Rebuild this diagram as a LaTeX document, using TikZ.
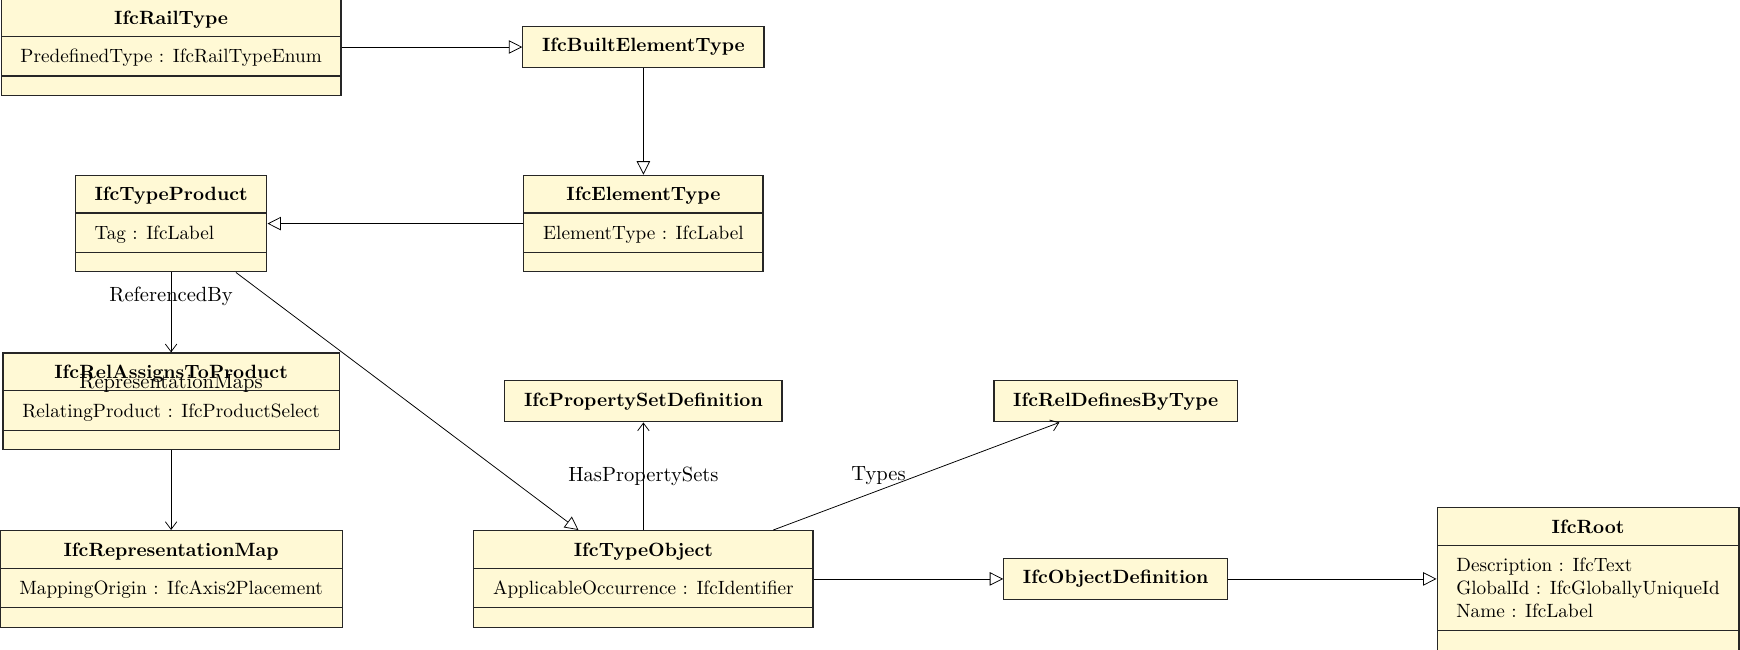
\documentclass[tikz,border=0pt]{standalone}
\usepackage{xcolor}
\usepackage{tikz}
\usetikzlibrary{positioning,arrows.meta,backgrounds,shapes.multipart}
\definecolor{umlYellow}{RGB}{255,249,213}
\newcommand{\titleRow}{\rule[-6pt]{0pt}{19pt}}
\newcommand{\attrRow}{\rule[-6.5pt]{0pt}{20pt}}
\newcommand{\emptyRow}{\rule{0pt}{9.5pt}}

\begin{document}
\begin{tikzpicture}[
  classNode/.style={rectangle split, rectangle split parts=3, draw=black!85,
                    line width=0.6pt, fill=umlYellow, inner xsep=10pt,
                    inner ysep=0pt, rectangle split part align={center,left,left},
                    font=\normalsize},
  plainClass/.style={draw=black!85, line width=0.6pt, fill=umlYellow,
                     inner xsep=10pt, minimum height=21.5pt, font=\bfseries},
  inherit/.style={-{Triangle[open, length=7pt, width=7pt]}},
  assoc/.style={-{Straight Barb[length=4pt, width=6pt]}},
  edgeLabel/.style={font=\fontsize{10.7pt}{13pt}\selectfont}
]
  \useasboundingbox (0,0) rectangle (31.83,-11.88);

  % Column 1
  \node[classNode] (rail) at (3.13,-0.86)
    {\titleRow\textbf{IfcRailType} \nodepart{two} \attrRow PredefinedType : IfcRailTypeEnum
     \nodepart{three}\emptyRow};
  \node[classNode] (tprod) at (3.13,-4.09)
    {\titleRow\textbf{IfcTypeProduct} \nodepart{two} \attrRow Tag : IfcLabel
     \nodepart{three}\emptyRow};
  \node[classNode] (rela) at (3.13,-7.34)
    {\titleRow\textbf{IfcRelAssignsToProduct} \nodepart{two} \attrRow RelatingProduct : IfcProductSelect
     \nodepart{three}\emptyRow};
  \node[classNode] (rmap) at (3.13,-10.59)
    {\titleRow\textbf{IfcRepresentationMap} \nodepart{two} \attrRow MappingOrigin : IfcAxis2Placement
     \nodepart{three}\emptyRow};

  % Column 2
  \node[plainClass] (built) at (11.77,-0.86) {IfcBuiltElementType};
  \node[classNode] (elem) at (11.77,-4.09)
    {\titleRow\textbf{IfcElementType} \nodepart{two} \attrRow ElementType : IfcLabel
     \nodepart{three}\emptyRow};
  \node[plainClass] (pset) at (11.77,-7.34) {IfcPropertySetDefinition};
  \node[classNode] (tobj) at (11.77,-10.59)
    {\titleRow\textbf{IfcTypeObject} \nodepart{two} \attrRow ApplicableOccurrence : IfcIdentifier
     \nodepart{three}\emptyRow};

  % Columns 3 and 4
  \node[plainClass] (rdef) at (20.41,-7.34) {IfcRelDefinesByType};
  \node[plainClass] (odef) at (20.41,-10.59) {IfcObjectDefinition};
  \node[classNode, align=left] (root) at (29.05,-10.59)
    {\titleRow\textbf{IfcRoot} \nodepart{two} \rule{0pt}{13.5pt}Description : IfcText\\
     GlobalId : IfcGloballyUniqueId\\ Name : IfcLabel\rule[-6.5pt]{0pt}{0pt}
     \nodepart{three}\emptyRow};

  % Generalisations
  \draw[inherit] (rail) -- (built);
  \draw[inherit] (built) -- (elem);
  \draw[inherit] (elem) -- (tprod);
  \draw[inherit] (tprod) -- (tobj);
  \draw[inherit] (tobj) -- (odef);
  \draw[inherit] (odef) -- (root);

  % Associations
  \draw[assoc] (tprod) -- node[pos=0.3, edgeLabel] {ReferencedBy} (rela);
  \begin{scope}[on background layer]
    \draw[assoc] (tprod) -- (rmap);
  \end{scope}
  \path (tprod) -- node[pos=0.43, edgeLabel] {RepresentationMaps} (rmap);
  \draw[assoc] (tobj) -- node[edgeLabel] {HasPropertySets} (pset);
  \draw[assoc] (tobj) -- node[pos=0.5, anchor=east, xshift=-2pt, yshift=0.5pt,
    edgeLabel] {Types} (rdef);
\end{tikzpicture}
\end{document}
